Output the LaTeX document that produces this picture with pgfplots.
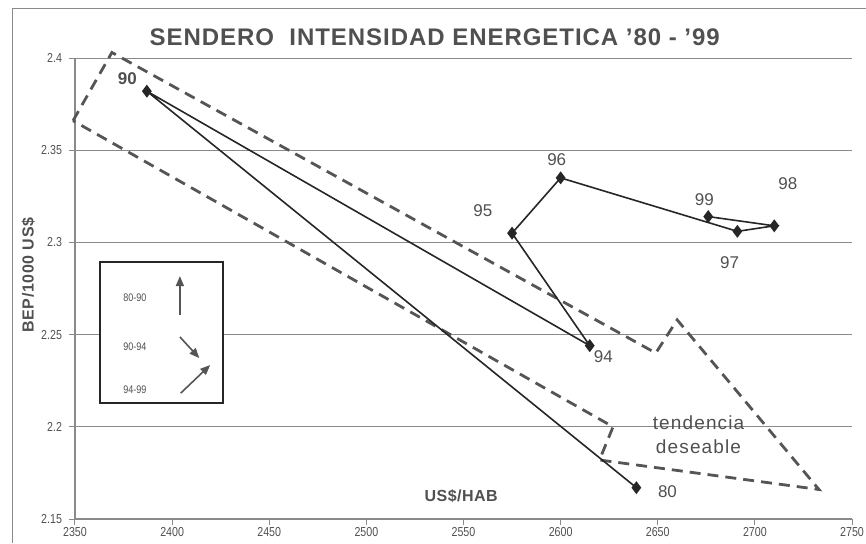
\documentclass[border=0pt]{standalone}
\usepackage{pgfplots}
\pgfplotsset{compat=1.18}
\usepackage{fontspec}
\setmainfont{Liberation Sans}
\newfontfamily\narrowfont[FakeStretch=0.82]{Liberation Sans}
\usetikzlibrary{arrows.meta}
\definecolor{txt}{HTML}{505050}
\definecolor{ln}{HTML}{262626}
\definecolor{grd}{HTML}{8A8A8A}
\definecolor{dsh}{HTML}{555555}
\begin{document}
\begin{tikzpicture}
\useasboundingbox (0,0) rectangle (433pt,271.5pt);
\draw[grd, line width=0.5pt] (6pt,0) -- (6pt,267.5pt) -- (433pt,267.5pt);
\begin{axis}[
  at={(37.5pt,12pt)}, anchor=south west, scale only axis,
  width=388.5pt, height=230.5pt,
  xmin=2350, xmax=2750, ymin=2.15, ymax=2.4,
  xtick={2350,2400,2450,2500,2550,2600,2650,2700,2750},
  ytick={2.15,2.2,2.25,2.3,2.35,2.4},
  axis x line=bottom, axis y line=left,
  axis line style={grd,-, line width=0.6pt},
  ymajorgrids, grid style={grd, line width=0.5pt},
  tick style={grd, line width=0.5pt}, tick align=outside, major tick length=3pt,
  clip=false,
  /pgf/number format/assume math mode=true,
  /pgf/number format/1000 sep={},
  /pgf/number format/fixed,
  xticklabel style={font=\narrowfont\fontsize{6.5}{7}\selectfont, text=txt, inner sep=1pt},
  yticklabel style={font=\narrowfont\fontsize{6.5}{7}\selectfont, text=txt},
]
% desired trend (dashed block arrow)
\addplot[dsh, line width=1.4pt, dash pattern=on 5.5pt off 3.5pt] coordinates {
  (2349,2.366) (2369,2.403) (2649,2.240) (2660,2.258) (2733,2.166) (2620,2.182) (2627,2.200) (2349,2.366)
};
% path
\addplot[ln, line width=0.8pt, mark=diamond*, mark size=2.6pt, mark options={fill=ln, solid}] coordinates {
  (2639,2.167) (2387,2.382) (2615,2.244) (2575,2.305) (2600,2.335) (2691,2.306) (2710,2.309) (2676,2.314)
};
% year labels
\begin{scope}[every node/.style={font=\fontsize{8.5}{9}\selectfont, text=txt}]
\node[font=\bfseries\fontsize{8.5}{9}\selectfont] at (axis cs:2377,2.389) {90};
\node at (axis cs:2598,2.345) {96};
\node at (axis cs:2560,2.317) {95};
\node at (axis cs:2674,2.323) {99};
\node at (axis cs:2687,2.289) {97};
\node at (axis cs:2717,2.332) {98};
\node at (axis cs:2622,2.238) {94};
\node at (axis cs:2655,2.165) {80};
\end{scope}
\node[font=\fontsize{9.5}{12}\selectfont\addfontfeatures{LetterSpace=6}, text=txt, align=center] at (axis cs:2671,2.1955) {tendencia\\deseable};
\node[font=\bfseries\fontsize{8}{9}\selectfont\addfontfeatures{LetterSpace=3}, text=txt] at (rel axis cs:0.497,0.05) {US\$/HAB};
% title and y label
\node[font=\bfseries\fontsize{12}{13}\selectfont\addfontfeatures{LetterSpace=4}, text=txt] at (rel axis cs:0.463,1.045) {SENDERO\ \ INTENSIDAD ENERGETICA '80 - '99};
\node[font=\bfseries\fontsize{8}{9}\selectfont\addfontfeatures{LetterSpace=4}, text=txt, rotate=90] at (rel axis cs:-0.060,0.529) {BEP/1000 US\$};
% inset key
\draw[ln, line width=0.9pt, fill=white] (rel axis cs:0.032,0.252) rectangle (rel axis cs:0.190,0.557);
\begin{scope}[every node/.style={font=\narrowfont\fontsize{5.5}{6}\selectfont, text=txt}]
\node at (rel axis cs:0.077,0.479) {80-90};
\node at (rel axis cs:0.077,0.373) {90-94};
\node at (rel axis cs:0.077,0.280) {94-99};
\end{scope}
\draw[dsh, line width=0.8pt, -{Triangle[length=5pt,width=4pt]}] (rel axis cs:0.135,0.4425) -- (rel axis cs:0.135,0.527);
\draw[dsh, line width=0.8pt, -{Triangle[length=5pt,width=4pt]}] (rel axis cs:0.135,0.395) -- (rel axis cs:0.160,0.349);
\draw[dsh, line width=0.8pt, -{Triangle[length=5pt,width=4pt]}] (rel axis cs:0.136,0.273) -- (rel axis cs:0.174,0.334);
\end{axis}
\end{tikzpicture}
\end{document}
